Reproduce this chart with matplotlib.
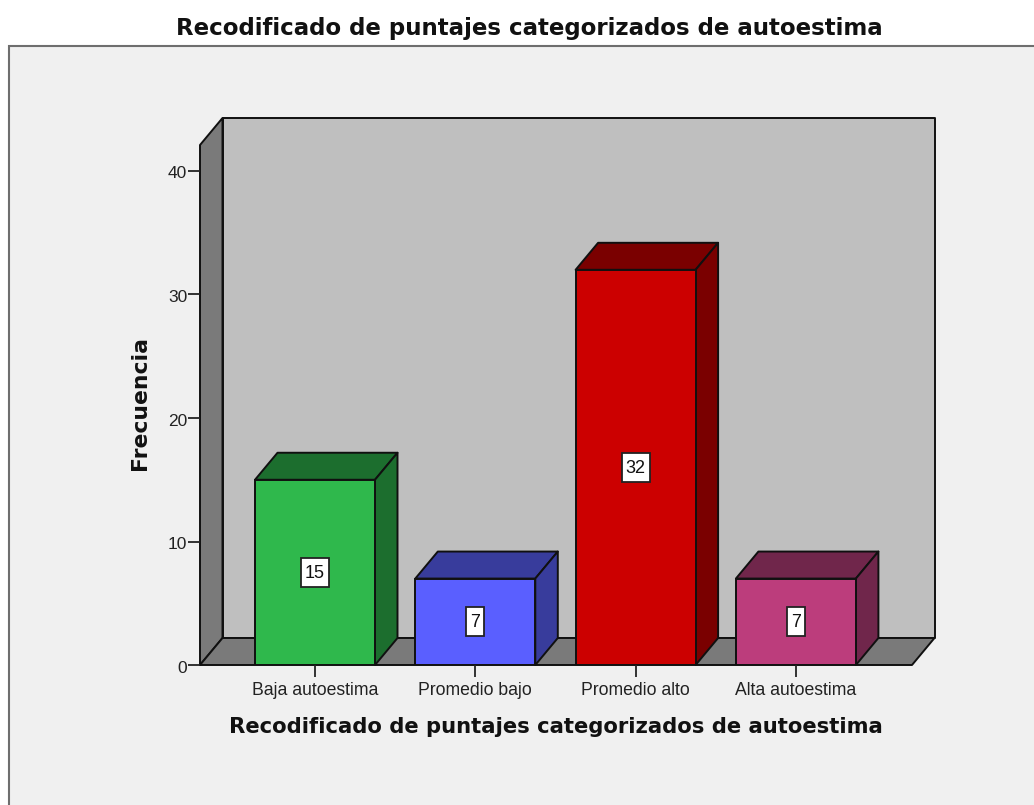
import matplotlib
matplotlib.use('Agg')
import matplotlib.pyplot as plt
from matplotlib.patches import Polygon, Rectangle
from matplotlib.transforms import ScaledTranslation

plt.rcParams['font.family'] = ['Liberation Sans', 'DejaVu Sans']

categories = ['Baja autoestima', 'Promedio bajo', 'Promedio alto', 'Alta autoestima']
values = [15, 7, 32, 7]
front_colors = ['#2FB84C', '#5A5FFF', '#CC0000', '#BC3D7C']
side_colors = ['#1C6E2E', '#383C9C', '#7A0000', '#70264B']
y_ticks = [0, 10, 20, 30, 40]
title = 'Recodificado de puntajes categorizados de autoestima'

W, H = 1034, 805
X0, X1 = 200, 912
Y0, Y40 = 665, 171
Y_TOP = 145
SPACING = 160.3
BAR_W = 120 / SPACING

fig = plt.figure(figsize=(W / 100, H / 100), dpi=100, facecolor='white')
fig.add_artist(Rectangle((9 / W, -0.01), 1.1, (H - 46) / H + 0.01, transform=fig.transFigure,
                         fc='#F0F0F0', ec='#6E6E6E', lw=1.5, zorder=-1))

ax = fig.add_axes([X0 / W, (H - Y0) / H, (X1 - X0) / W, (Y0 - Y_TOP) / H])
per_unit = (Y0 - Y40) / 40
ax.set_xlim((X0 - 315) / SPACING, (X1 - 315) / SPACING)
ax.set_ylim(0, (Y0 - Y_TOP) / per_unit)
ax.patch.set_visible(False)
for s in ax.spines.values():
    s.set_visible(False)

# depth of the fake 3D, in data units
dx = 22.5 / SPACING
dy = 27 / per_unit
xl, xr = ax.get_xlim()
ytop = ax.get_ylim()[1]


def face(points, color, z):
    ax.add_patch(Polygon(points, closed=True, fc=color, ec='#101010', lw=1.4, clip_on=False,
                         joinstyle='round', zorder=z))


# walls and floor
face([(xl + dx, dy), (xr + dx, dy), (xr + dx, ytop + dy), (xl + dx, ytop + dy)], '#BFBFBF', 1)
face([(xl, 0), (xl + dx, dy), (xl + dx, ytop + dy), (xl, ytop)], '#7A7A7A', 1.1)
face([(xl, 0), (xr, 0), (xr + dx, dy), (xl + dx, dy)], '#7A7A7A', 1.1)

for i, v in enumerate(values):
    l, r = i - BAR_W / 2, i + BAR_W / 2
    z = 2 + i
    ax.bar(i, v, width=BAR_W, color=front_colors[i], edgecolor='#101010', linewidth=1.4, zorder=z + 0.2)
    face([(l, v), (r, v), (r + dx, v + dy), (l + dx, v + dy)], side_colors[i], z)
    face([(r, 0), (r + dx, dy), (r + dx, v + dy), (r, v)], side_colors[i], z)
    # white value box, sized in pixels
    label = str(v)
    box_w = (10 * len(label) + 8) / SPACING
    box_h = 29 / per_unit
    ax.add_patch(Rectangle((i - box_w / 2, v / 2 - box_h / 2), box_w, box_h, fc='white', ec='#222222',
                           lw=1.3, zorder=z + 0.3))
    ax.text(i, v / 2 - 1 / per_unit, label, ha='center', va='center', fontsize=13, color='#111111', zorder=z + 0.4)

ax.set_xticks(range(len(categories)))
ax.set_xticklabels(categories, fontsize=12.7, color='#222222')
ax.set_yticks(y_ticks)
ax.tick_params(axis='x', length=8.6, width=1.3, color='#222222', pad=3.5)
ax.tick_params(axis='y', length=8.6, width=1.3, color='#222222', pad=0.5, labelsize=12.5, labelcolor='#222222')

# y tick labels sit a bit under their ticks
down = ScaledTranslation(0, -1.5 / 100, fig.dpi_scale_trans)
for tick_label in ax.get_yticklabels():
    tick_label.set_transform(tick_label.get_transform() + down)

fig.text(529 / W, 1 - 28.5 / H, title, ha='center', va='center', fontsize=16.45, fontweight='bold',
         family='DejaVu Sans', color='#111111')
fig.text(555.5 / W, 1 - 727 / H, title, ha='center', va='center', fontsize=15.25, fontweight='bold',
         family='DejaVu Sans', color='#111111')
fig.text(140 / W, 1 - 403 / H, 'Frecuencia', ha='center', va='center', rotation=90, fontsize=15.75,
         fontweight='bold', family='DejaVu Sans', color='#111111')

fig.savefig('out.png', dpi=100)
